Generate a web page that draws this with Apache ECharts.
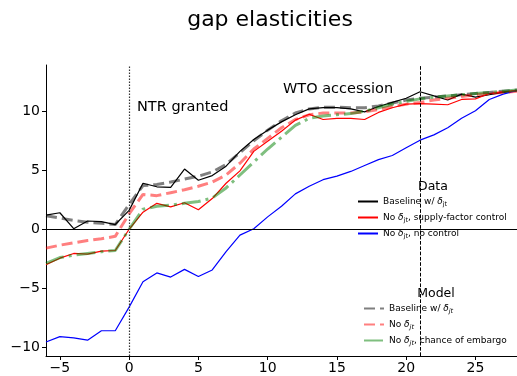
<!DOCTYPE html>
<html>
<head>
<meta charset="utf-8">
<script src="https://cdn.jsdelivr.net/npm/echarts@6/dist/echarts.min.js"></script>
<style>
  html, body { margin: 0; padding: 0; background: #fff; }
  #chart { width: 517px; height: 376px; }
</style>
</head>
<body>
<div id="chart"></div>
<script>
// Event time in years relative to NTR being granted
const years = [-6, -5, -4, -3, -2, -1, 0, 1, 2, 3, 4, 5, 6, 7, 8, 9, 10, 11,
               12, 13, 14, 15, 16, 17, 18, 19, 20, 21, 22, 23, 24, 25, 26, 27, 28];

// Estimated gap elasticities (data)
const dataBaseline = [1.2, 1.4, 0.05, 0.7, 0.65, 0.4, 1.6, 3.9, 3.6, 3.55, 5.1, 4.15, 4.55, 5.35,
                      6.6, 7.6, 8.4, 9.1, 9.7, 10.2, 10.3, 10.3, 10.2, 9.95, 10.4, 10.75, 11.1,
                      11.65, 11.3, 10.95, 11.45, 11.2, 11.4, 11.6, 11.75];
const dataSupplyControl = [-3.0, -2.45, -2.05, -2.1, -1.85, -1.8, 0.0, 1.45, 2.2, 1.9, 2.25, 1.65,
                           2.6, 3.9, 4.95, 6.6, 7.45, 8.3, 9.25, 9.75, 9.3, 9.4, 9.4, 9.3, 9.9,
                           10.3, 10.6, 10.65, 10.6, 10.55, 11.0, 11.05, 11.5, 11.65, 11.75];
const dataNoControl = [-9.55, -9.1, -9.2, -9.4, -8.6, -8.6, -6.6, -4.45, -3.7, -4.05, -3.4, -4.0,
                       -3.45, -1.9, -0.5, 0.05, 1.05, 1.95, 3.0, 3.65, 4.2, 4.5, 4.9, 5.4, 5.9,
                       6.25, 6.9, 7.55, 8.0, 8.6, 9.4, 10.05, 11.0, 11.45, 11.75];

// Model-implied gap elasticities
const modelBaseline = [1.15, 0.95, 0.75, 0.6, 0.5, 0.4, 2.1, 3.7, 3.8, 4.0, 4.25, 4.5, 4.85, 5.5,
                       6.5, 7.5, 8.4, 9.2, 9.85, 10.2, 10.35, 10.35, 10.3, 10.3, 10.45, 10.7,
                       10.95, 11.1, 11.2, 11.3, 11.4, 11.5, 11.6, 11.7, 11.8];
const modelNoDelta = [-1.6, -1.35, -1.15, -0.95, -0.8, -0.6, 1.3, 2.95, 2.85, 3.1, 3.35, 3.65, 4.0,
                      4.6, 5.6, 6.8, 7.7, 8.6, 9.3, 9.7, 9.85, 9.85, 9.85, 9.95, 10.15, 10.4, 10.6,
                      10.75, 10.95, 11.1, 11.25, 11.4, 11.5, 11.6, 11.7];
const modelEmbargo = [-2.9, -2.4, -2.2, -2.05, -1.9, -1.8, 0.0, 1.7, 1.95, 2.05, 2.2, 2.35, 2.65,
                      3.5, 4.6, 5.7, 6.8, 7.8, 8.8, 9.4, 9.6, 9.7, 9.8, 10.0, 10.3, 10.6, 10.85,
                      11.05, 11.2, 11.3, 11.4, 11.5, 11.6, 11.7, 11.8];

// Axis ticks and event markers
const xTicks = [-5, 0, 5, 10, 15, 20, 25];
const yTicks = [-10, -5, 0, 5, 10];
const ntrYear = 0;
const wtoYear = 21;

const FONT = 'DejaVu Sans';
const pairs = vals => years.map((y, i) => [y, vals[i]]);
const minus = v => String(v).replace('-', '\u2212');

const legendLabels = {
  baseData:   '{n|Baseline w/ }{d|δ}{s|jt}',
  supplyData: '{n|No }{d|δ}{s|jt}{n|, supply-factor control}',
  noCtrlData: '{n|No }{d|δ}{s|jt}{n|, no control}',
  baseModel:  '{n|Baseline w/ }{d|δ}{si|jt}',
  noDeltaModel: '{n|No }{d|δ}{si|jt}',
  embargoModel: '{n|No }{d|δ}{si|jt}{n|, chance of embargo}'
};
const rich = {
  n:  { fontFamily: FONT, fontSize: 9, color: '#000' },
  d:  { fontFamily: FONT, fontSize: 9, fontStyle: 'italic', color: '#000' },
  s:  { fontFamily: FONT, fontSize: 6.5, color: '#000', padding: [5, 0, 0, 0] },
  si: { fontFamily: FONT, fontSize: 6.5, fontStyle: 'italic', color: '#000', padding: [5, 0, 0, 0] }
};

const legendCommon = {
  orient: 'vertical',
  padding: 0,
  itemWidth: 20,
  itemHeight: 10,
  itemGap: 5.5,
  selectedMode: false,
  // line-only keys: hide the point marker drawn on top of each key line
  itemStyle: { color: 'rgba(0,0,0,0)', borderWidth: 0, opacity: 0 },
  formatter: name => legendLabels[name],
  textStyle: { fontFamily: FONT, fontSize: 9, color: '#000', rich: rich }
};

const chart = echarts.init(document.getElementById('chart'), null, { renderer: 'canvas' });

chart.setOption({
  animation: false,
  backgroundColor: '#fff',
  grid: { left: 46, top: 65, width: 472.4, height: 291, containLabel: false },
  xAxis: {
    type: 'value', min: -6, max: 28,
    axisLine: { show: true, onZero: false, lineStyle: { color: '#000', width: 1 } },
    axisTick: { show: true, inside: false, length: 4, customValues: xTicks, lineStyle: { color: '#000' } },
    axisLabel: { customValues: xTicks, formatter: minus, fontFamily: FONT, fontSize: 14, color: '#000', margin: 5 },
    splitLine: { show: false }
  },
  yAxis: {
    type: 'value', min: -10.74, max: 13.92,
    axisLine: { show: true, onZero: false, lineStyle: { color: '#000', width: 1 } },
    axisTick: { show: true, inside: false, length: 4, customValues: yTicks, lineStyle: { color: '#000' } },
    axisLabel: { customValues: yTicks, formatter: minus, fontFamily: FONT, fontSize: 14, color: '#000', margin: 6 },
    splitLine: { show: false }
  },
  legend: [
    Object.assign({}, legendCommon, {
      left: 357, top: 197,
      data: ['baseData', 'supplyData', 'noCtrlData']
    }),
    Object.assign({}, legendCommon, {
      left: 363, top: 304,
      data: ['baseModel', 'noDeltaModel', 'embargoModel']
    })
  ],
  graphic: [
    { type: 'text', x: 270, y: 20, z: 10,
      style: { text: 'gap elasticities', fontFamily: FONT, fontSize: 22, fill: '#000',
               textAlign: 'center', textVerticalAlign: 'middle' } },
    { type: 'text', x: 137, y: 107, z: 10,
      style: { text: 'NTR granted', fontFamily: FONT, fontSize: 14.5, fill: '#000',
               textAlign: 'left', textVerticalAlign: 'middle' } },
    { type: 'text', x: 283, y: 89, z: 10,
      style: { text: 'WTO accession', fontFamily: FONT, fontSize: 14.5, fill: '#000',
               textAlign: 'left', textVerticalAlign: 'middle' } },
    // opaque legend panels
    { type: 'rect', z: 3, shape: { x: 351, y: 176, width: 164, height: 70 }, style: { fill: '#fff' } },
    { type: 'rect', z: 3, shape: { x: 356, y: 283, width: 161, height: 70 }, style: { fill: '#fff' } },
    { type: 'text', x: 433, y: 187, z: 10,
      style: { text: 'Data', fontFamily: FONT, fontSize: 12.5, fill: '#000',
               textAlign: 'center', textVerticalAlign: 'middle' } },
    { type: 'text', x: 436, y: 294, z: 10,
      style: { text: 'Model', fontFamily: FONT, fontSize: 12.5, fill: '#000',
               textAlign: 'center', textVerticalAlign: 'middle' } }
  ],
  series: [
    {
      name: 'baseData', type: 'line', symbol: 'none', data: pairs(dataBaseline),
      lineStyle: { color: '#000', width: 1.2 }, itemStyle: { color: '#000' },
      markLine: {
        silent: true, symbol: 'none', label: { show: false },
        data: [
          { yAxis: 0, lineStyle: { color: '#000', width: 1, type: 'solid' } },
          { xAxis: ntrYear, lineStyle: { color: '#333', width: 1.2, type: [1.5, 1.5] } },
          { xAxis: wtoYear, lineStyle: { color: '#000', width: 1, type: [3.7, 1.6] } }
        ]
      }
    },
    {
      name: 'supplyData', type: 'line', symbol: 'none', data: pairs(dataSupplyControl),
      lineStyle: { color: '#ff0000', width: 1.2 }, itemStyle: { color: '#ff0000' }
    },
    {
      name: 'noCtrlData', type: 'line', symbol: 'none', data: pairs(dataNoControl),
      lineStyle: { color: '#0000ff', width: 1.2 }, itemStyle: { color: '#0000ff' }
    },
    {
      name: 'baseModel', type: 'line', symbol: 'none', data: pairs(modelBaseline),
      lineStyle: { color: 'rgba(0,0,0,0.5)', width: 3, type: [11, 5] }, itemStyle: { color: 'rgba(0,0,0,0.5)' }
    },
    {
      name: 'noDeltaModel', type: 'line', symbol: 'none', data: pairs(modelNoDelta),
      lineStyle: { color: 'rgba(255,0,0,0.5)', width: 3, type: [11, 5] }, itemStyle: { color: 'rgba(255,0,0,0.5)' }
    },
    {
      name: 'embargoModel', type: 'line', symbol: 'none', data: pairs(modelEmbargo),
      lineStyle: { color: 'rgba(0,128,0,0.5)', width: 3, type: [19, 5, 3, 5] }, itemStyle: { color: 'rgba(0,128,0,0.5)' }
    }
  ]
});
</script>
</body>
</html>
